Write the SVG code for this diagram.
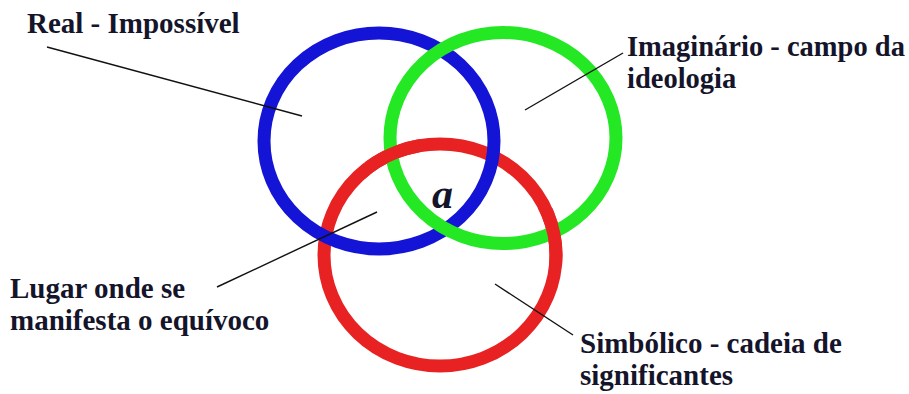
<svg xmlns="http://www.w3.org/2000/svg" width="909" height="394" viewBox="0 0 909 394">
<style>
.ring{fill:none;stroke-width:13}
.blue{stroke:#1414d6}
.green{stroke:#24e824}
.red{stroke:#e82222}
.lbl{font-family:"Liberation Serif","Times New Roman",serif;font-weight:bold;font-size:29px;fill:#14142a}
.lead{stroke:#111;stroke-width:1.4;fill:none}
</style>
<defs>
<clipPath id="rgClip">
<rect x="365" y="130" width="55" height="55"/>
<rect x="528" y="208" width="54" height="58"/>
</clipPath>
</defs>
<rect width="909" height="394" fill="#ffffff"/>
<g id="simbolico-ring"><ellipse class="ring red" cx="440" cy="255" rx="116" ry="111"/></g>
<g id="real-ring"><ellipse class="ring blue" cx="379" cy="141" rx="115" ry="108"/></g>
<g id="imaginario-ring"><ellipse class="ring green" cx="503" cy="138" rx="113" ry="105.5"/></g>
<g id="simbolico-over"><ellipse class="ring red" cx="440" cy="255" rx="116" ry="111" clip-path="url(#rgClip)"/></g>
<g id="connectors">
<line class="lead" x1="47" y1="47" x2="302" y2="116"/>
<line class="lead" x1="525" y1="110" x2="623" y2="53"/>
<line class="lead" x1="217" y1="287" x2="377" y2="212"/>
<line class="lead" x1="495" y1="284" x2="573" y2="335"/>
</g>
<g id="label-real"><text class="lbl" x="27" y="33">Real - Impossível</text></g>
<g id="label-imaginario"><text class="lbl" x="627" y="56" style="font-size:28.5px">Imaginário - campo da</text><text class="lbl" x="627" y="88" style="font-size:28.5px">ideologia</text></g>
<g id="label-lugar"><text class="lbl" x="10" y="298">Lugar onde se</text><text class="lbl" x="10" y="330">manifesta o equívoco</text></g>
<g id="label-simbolico"><text class="lbl" x="580" y="353">Simbólico - cadeia de</text><text class="lbl" x="580" y="385">significantes</text></g>
<g id="objeto-a"><text x="432" y="208" style="font-family:'Liberation Serif','Times New Roman',serif;font-weight:bold;font-style:italic;font-size:42px;fill:#14142a">a</text></g>
</svg>
